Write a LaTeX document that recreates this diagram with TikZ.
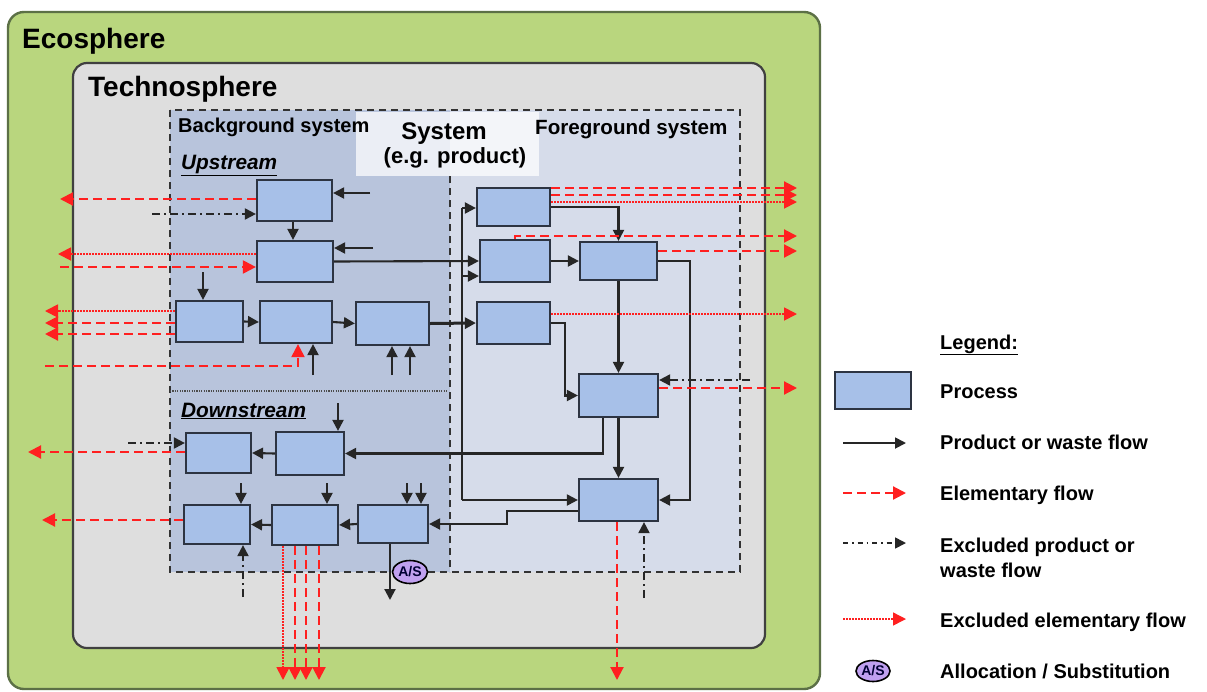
\documentclass[tikz,border=0pt]{standalone}
\usepackage{fontspec}
\setmainfont{Liberation Sans}
\usetikzlibrary{arrows.meta,shapes.geometric,calc}

\definecolor{ecogreen}{RGB}{185,214,126}
\definecolor{ecoedge}{RGB}{92,112,70}
\definecolor{technogray}{RGB}{222,222,222}
\definecolor{bgblue}{RGB}{184,196,220}
\definecolor{fgblue}{RGB}{214,220,234}
\definecolor{procblue}{RGB}{167,192,232}
\definecolor{procedge}{RGB}{45,52,66}
\definecolor{elemred}{RGB}{255,32,32}
\definecolor{aspurple}{RGB}{192,160,240}

\tikzset{
  proc/.style={draw=procedge, fill=procblue, line width=2.2pt, inner sep=0pt},
  flow/.style={draw=black!85, line width=2.1pt, -{Triangle[length=11pt,width=11pt]}},
  thickflow/.style={flow, line width=3pt},
  elem/.style={draw=elemred, line width=2.1pt, dash pattern=on 9pt off 5pt,
               -{Triangle[length=13pt,width=13pt]}},
  exelem/.style={draw=elemred, line width=1.8pt, dash pattern=on 1.6pt off 1.4pt,
               -{Triangle[length=13pt,width=13pt]}},
  excl/.style={draw=black!85, line width=2pt, dash pattern=on 8pt off 4pt on 2pt off 4pt,
               -{Triangle[length=11pt,width=11pt]}},
  asnode/.style={ellipse, draw=black, fill=aspurple, line width=1.6pt, inner sep=0pt,
               minimum width=35pt, minimum height=23pt,
               font=\fontsize{14}{14}\selectfont\bfseries, text=black!80!blue},
  lbl/.style={anchor=base west, inner sep=0pt, font=\fontsize{20}{24}\selectfont\bfseries},
  sysbox/.style={draw=black!80, line width=2pt, dash pattern=on 7pt off 5pt},
}

\begin{document}
\begin{tikzpicture}[x=1pt,y=-1pt]
\useasboundingbox (0,0) rectangle (1207,691);
\fill[white] (0,0) rectangle (1207,691);

% ---- spheres -------------------------------------------------------
\draw[ecoedge, fill=ecogreen, line width=2.4pt, rounded corners=16pt] (8,12) rectangle (820,689);
\draw[black!75, fill=technogray, line width=2.2pt, rounded corners=14pt] (73,63) rectangle (765,648);
\node[anchor=base west, inner sep=0pt, font=\fontsize{28}{32}\selectfont\bfseries] (ecotitle) at (22,48) {Ecosphere};
\node[anchor=base west, inner sep=0pt, font=\fontsize{28}{32}\selectfont\bfseries] (technotitle) at (88,96) {Technosphere};

% ---- system: background and foreground -----------------------------
\fill[bgblue] (170,110) rectangle (450,572);
\fill[fgblue] (450,110) rectangle (740,572);
\draw[sysbox] (170,110) rectangle (740,572);
\draw[sysbox] (450,176) -- (450,572);
\draw[black!70, line width=1.2pt, dash pattern=on 1.2pt off 1.2pt] (170,391) -- (448,391);
\fill[white, opacity=0.72] (356,112) rectangle (539,176);

\node[lbl] (bgtitle) at (178,132) {Background system};
\node[lbl, font=\fontsize{20.6}{24}\selectfont\bfseries] (fgtitle) at (535,134) {Foreground system};
\node[anchor=base, inner sep=0pt, font=\fontsize{24}{28}\selectfont\bfseries] (systitle) at (444,139) {System};
\node[anchor=base, inner sep=0pt, font=\fontsize{22}{26}\selectfont\bfseries] (syssub) at (455,163) {(e.g. product)};
\node[lbl, font=\fontsize{20.8}{24}\selectfont\bfseries\itshape] (uptitle) at (181,169) {\underline{Upstream}};
\node[lbl, font=\fontsize{20.8}{24}\selectfont\bfseries\itshape] (downtitle) at (181,417) {\underline{Downstream}};

% ---- processes -----------------------------------------------------
\node[proc, minimum width=75pt, minimum height=41pt] (U1) at (294.5,200.5) {};
\node[proc, minimum width=76pt, minimum height=41pt] (U2) at (295,261.5) {};
\node[proc, minimum width=67pt, minimum height=41pt] (U3) at (209.5,321.5) {};
\node[proc, minimum width=72pt, minimum height=42pt] (U4) at (296,322) {};
\node[proc, minimum width=73pt, minimum height=43pt] (U5) at (392.5,323.5) {};

\node[proc, minimum width=73pt, minimum height=38pt] (F1) at (513.5,207) {};
\node[proc, minimum width=70pt, minimum height=42pt] (F2) at (515,261) {};
\node[proc, minimum width=77pt, minimum height=38pt] (F3) at (618.5,261) {};
\node[proc, minimum width=73pt, minimum height=42pt] (F4) at (513.5,323) {};
\node[proc, minimum width=79pt, minimum height=43pt] (F5) at (618.5,395.5) {};
\node[proc, minimum width=79pt, minimum height=42pt] (F6) at (618.5,500) {};

\node[proc, minimum width=65pt, minimum height=40pt] (D1) at (218.5,453) {};
\node[proc, minimum width=68pt, minimum height=43pt] (D2) at (310,453.5) {};
\node[proc, minimum width=66pt, minimum height=39pt] (D3) at (217,524.5) {};
\node[proc, minimum width=66pt, minimum height=40pt] (D4) at (305,525) {};
\node[proc, minimum width=70pt, minimum height=38pt] (D5) at (393,524) {};

% ---- free ends -----------------------------------------------------
\coordinate (in1) at (370,193);
\coordinate (in2) at (373,248);
\coordinate (in3) at (203,272);
\coordinate (in4) at (313,375);
\coordinate (in5a) at (392,375);
\coordinate (in5b) at (410,375);
\coordinate (in6) at (338,403);
\coordinate (in7) at (241,483);
\coordinate (in8) at (327,483);
\coordinate (in9a) at (407,483);
\coordinate (in9b) at (421,483);
\coordinate (out5) at (390,600);
\coordinate (busT) at (462,208);
\coordinate (bus2) at (462,276);
\coordinate (busB) at (462,500);

\coordinate (e1) at (60,199);
\coordinate (e2) at (58,254);
\coordinate (e3) at (60,267);
\coordinate (e4) at (45,311);
\coordinate (e5) at (45,323);
\coordinate (e6) at (45,334);
\coordinate (e7) at (45,366);
\coordinate (e7b) at (298,366);
\coordinate (e8) at (28,452);
\coordinate (e9) at (42,520);
\coordinate (e10) at (283,680);
\coordinate (e11) at (295,680);
\coordinate (e12) at (306,680);
\coordinate (e13) at (319,680);
\coordinate (e14) at (797,188);
\coordinate (e15) at (797,195);
\coordinate (e16) at (797,202);
\coordinate (e17) at (797,236);
\coordinate (e18) at (797,251);
\coordinate (e19) at (797,314);
\coordinate (e20) at (797,388);
\coordinate (e21) at (617,680);

\coordinate (x1) at (152,214);
\coordinate (x2) at (128,443);
\coordinate (x3) at (243,597);
\coordinate (x4) at (750,380);
\coordinate (x5) at (644,598);

% ---- product and waste flows ---------------------------------------
\draw[flow] (in1) -- (in1 -| U1.east);
\draw[flow] (U1.south -| 293,0) -- (U2.north -| 293,0);
\draw[flow] (in2) -- (in2 -| U2.east);
\draw[flow] (U2.east) -- (F2.west);
\draw[flow] (in3) -- (in3 |- U3.north);
\draw[flow] (U3.east) -- (U4.west);
\draw[flow] (U4.east) -- (U5.west);
\draw[thickflow] (U5.east) -- (F4.west);
\draw[flow] (in4) -- (in4 |- U4.south);
\draw[flow] (in5a) -- (in5a |- U5.south);
\draw[flow] (in5b) -- (in5b |- U5.south);

\draw[black!85, line width=2.1pt] (busT) -- (busB);
\draw[flow] (busT) -- (busT -| F1.west);
\draw[flow] (bus2) -- (bus2 -| F2.west);
\draw[flow] (busB) -- (F6.west);

\draw[flow] (F1.east) -| (F3.north);
\draw[flow] (F2.east) -- (F3.west);
\draw[flow] (F3.south) -- (F5.north);
\draw[flow] (F3.east) -- ++(32,0) |- (F6.east);
\draw[flow] (F4.east) -- ++(14,0) |- (F5.west);
\draw[flow] (F5.south) -- (F6.north);
\draw[flow] ($(F5.south)+(-15.5,0)$) |- (D2.east);
\draw[flow] ($(F6.west)+(0,11)$) -- ++(-71,0) -- ++(0,13) -- (D5.east);

\draw[flow] (D2.west) -- (D1.east);
\draw[flow] (in6) -- (in6 |- D2.north);
\draw[flow] (D5.west) -- (D4.east);
\draw[flow] (D4.west) -- (D3.east);
\draw[flow] (in7) -- (in7 |- D3.north);
\draw[flow] (in8) -- (in8 |- D4.north);
\draw[flow] (in9a) -- (in9a |- D5.north);
\draw[flow] (in9b) -- (in9b |- D5.north);
\draw[flow] (out5 |- D5.south) -- (out5);

% ---- elementary flows ----------------------------------------------
\draw[elem] (e1 -| U1.west) -- (e1);
\draw[exelem] (e2 -| U2.west) -- (e2);
\draw[elem] (e3) -- (e3 -| U2.west);
\draw[exelem] (e4 -| U3.west) -- (e4);
\draw[elem] (e5 -| U3.west) -- (e5);
\draw[elem] (e6 -| U3.west) -- (e6);
\draw[elem] (e7) -- (e7b) -- (e7b |- U4.south);
\draw[elem] (e8 -| D1.west) -- (e8);
\draw[elem] (e9 -| D3.west) -- (e9);
\draw[exelem] (e10 |- D4.south) -- (e10);
\draw[elem] (e11 |- D4.south) -- (e11);
\draw[elem] (e12 |- D4.south) -- (e12);
\draw[elem] (e13 |- D4.south) -- (e13);

\draw[elem] (e14 -| F1.east) -- (e14);
\draw[elem] (e15 -| F1.east) -- (e15);
\draw[exelem] (e16 -| F1.east) -- (e16);
\draw[elem] (F2.north) -- (F2.north |- e17) -- (e17);
\draw[elem] (e18 -| F3.east) -- (e18);
\draw[exelem] (e19 -| F4.east) -- (e19);
\draw[elem] (e20 -| F5.east) -- (e20);
\draw[elem] (e21 |- F6.south) -- (e21);

% ---- excluded product or waste flows -------------------------------
\draw[excl] (x1) -- (x1 -| U1.west);
\draw[excl] (x2) -- (x2 -| D1.west);
\draw[excl] (x3) -- (x3 |- D3.south);
\draw[excl] (x4) -- (x4 -| F5.east);
\draw[excl] (x5) -- (x5 |- F6.south);

% ---- allocation / substitution -------------------------------------
\node[asnode] (as) at (410,572) {A/S};

% ---- legend --------------------------------------------------------
\node[lbl] (lgtitle) at (940,349) {\underline{Legend:}};
\node[proc, minimum width=76pt, minimum height=37pt] (lgproc) at (873,390.5) {};
\node[lbl] (lgproctext) at (940,398) {Process};

\coordinate (lf1) at (843,443);  \coordinate (lf2) at (906,443);
\draw[flow, line width=1.8pt] (lf1) -- (lf2);
\node[lbl] (lgflow) at (940,449) {Product or waste flow};

\coordinate (le1) at (843,493);  \coordinate (le2) at (906,493);
\draw[elem] (le1) -- (le2);
\node[lbl] (lgelem) at (940,500) {Elementary flow};

\coordinate (lx1) at (843,543);  \coordinate (lx2) at (906,543);
\draw[excl, line width=1.6pt, dash pattern=on 5pt off 4pt on 1.5pt off 4pt] (lx1) -- (lx2);
\node[lbl] (lgexcl) at (940,552) {Excluded product or};
\node[lbl] (lgexcl2) at (940,577) {waste flow};

\coordinate (ld1) at (843,619);  \coordinate (ld2) at (906,619);
\draw[exelem, line width=1.4pt] (ld1) -- (ld2);
\node[lbl] (lgexelem) at (940,627) {Excluded elementary flow};

\node[asnode, minimum width=34pt, minimum height=21pt] (lgas) at (873,671) {A/S};
\node[lbl] (lgastext) at (940,678) {Allocation / Substitution};
\end{tikzpicture}
\end{document}
